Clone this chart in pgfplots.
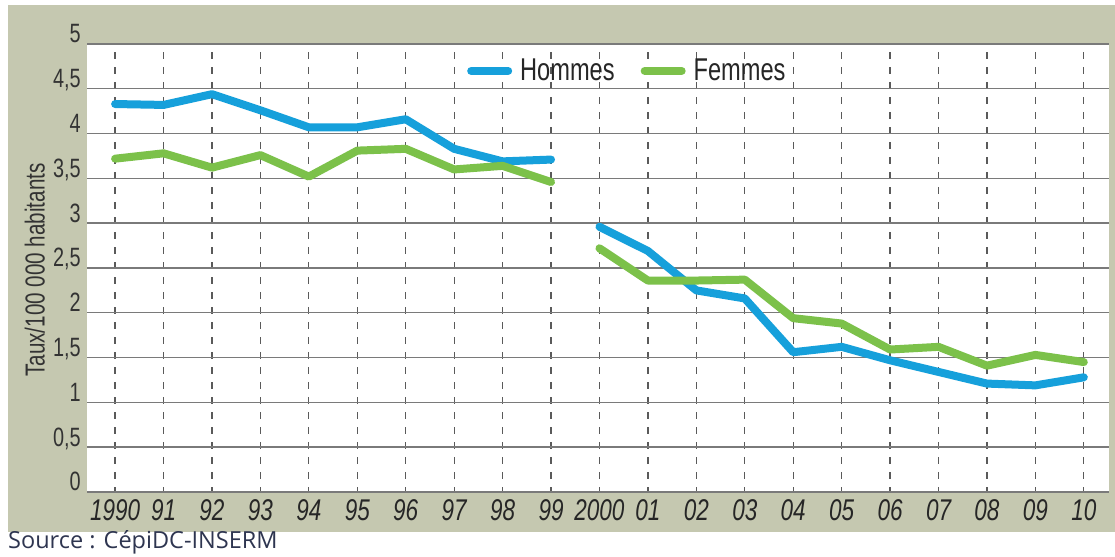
\documentclass[border=0pt]{standalone}
\usepackage{pgfplots}
\pgfplotsset{compat=1.18}
\usepackage{fontspec}
\setmainfont{Liberation Sans}
\newfontfamily\cond[FakeStretch=0.75]{Liberation Sans}
\newfontfamily\src{Open Sans}
\definecolor{panel}{HTML}{C5C8B0}
\definecolor{hblue}{HTML}{16A0DB}
\definecolor{fgreen}{HTML}{7CC14A}
\definecolor{srccol}{HTML}{2E3550}
\definecolor{gridh}{HTML}{7A7A7A}
\definecolor{gridv}{HTML}{5A5A5A}
\begin{document}
\begin{tikzpicture}
\useasboundingbox (0,0) rectangle (1115bp,557bp);
\fill[panel] (8bp,25bp) rectangle (1115bp,552bp);
\begin{axis}[
  at={(87bp,65bp)}, anchor=south west,
  scale only axis, width=1022bp, height=448bp,
  xmin=1989.42, xmax=2010.52, ymin=0, ymax=5,
  axis background/.style={fill=white},
  axis line style={draw=none},
  major tick length=0pt,
  xtick={1990,1991,1992,1993,1994,1995,1996,1997,1998,1999,2000,2001,2002,2003,2004,2005,2006,2007,2008,2009,2010},
  xticklabels={1990,91,92,93,94,95,96,97,98,99,2000,01,02,03,04,05,06,07,08,09,10},
  ytick={0,0.5,1,1.5,2,2.5,3,3.5,4,4.5,5},
  yticklabels={0,{0,5},1,{1,5},2,{2,5},3,{3,5},4,{4,5},5},
  xmajorgrids, ymajorgrids,
  x grid style={gridv, line width=1.2bp, dash pattern=on 7bp off 8bp, dash phase=2bp},
  y grid style={gridh, line width=1.4bp},
  yticklabel style={font=\cond\fontsize{26.5bp}{26.5bp}\selectfont, anchor=base east, xshift=-6bp, yshift=1bp, inner sep=0pt, text=black!80},
  xticklabel style={font=\cond\itshape\fontsize{30bp}{30bp}\selectfont, anchor=base, yshift=-29bp, inner sep=0pt, text=black!85},
  ylabel={Taux/100 000 habitants},
  ylabel style={font=\cond\fontsize{27.5bp}{27.5bp}\selectfont, at={(axis description cs:-0.051,0.4955)}, anchor=center, text=black!80, inner sep=0pt},
  legend style={at={(axis description cs:0.372,0.940)}, anchor=west, draw=none, fill=none, inner sep=0pt, outer sep=0pt,
    font=\cond\fontsize{31.5bp}{31.5bp}\selectfont, text=black!85,
    /tikz/every even column/.append style={column sep=24bp},
    /tikz/every odd column/.append style={column sep=6bp}},
  legend columns=2,
  legend image code/.code={\draw[#1, line cap=round] (4bp,0bp) -- (41bp,0bp);},
  every axis plot/.append style={line width=8bp, line join=round, line cap=round},
]
\addplot[hblue] coordinates {(1990,4.33)(1991,4.32)(1992,4.44)(1993,4.26)(1994,4.07)(1995,4.07)(1996,4.16)(1997,3.83)(1998,3.69)(1999,3.71)};
\addlegendentry{Hommes}
\addplot[fgreen] coordinates {(1990,3.72)(1991,3.78)(1992,3.62)(1993,3.76)(1994,3.52)(1995,3.81)(1996,3.83)(1997,3.60)(1998,3.64)(1999,3.46)};
\addlegendentry{Femmes}
\addplot[hblue, forget plot] coordinates {(2000,2.96)(2001,2.69)(2002,2.25)(2003,2.16)(2004,1.56)(2005,1.62)(2006,1.47)(2007,1.34)(2008,1.21)(2009,1.19)(2010,1.28)};
\addplot[fgreen, forget plot] coordinates {(2000,2.72)(2001,2.36)(2002,2.36)(2003,2.37)(2004,1.94)(2005,1.88)(2006,1.59)(2007,1.62)(2008,1.41)(2009,1.53)(2010,1.45)};
\end{axis}
\node[anchor=base west, font=\src\fontsize{23.5bp}{23.5bp}\selectfont, text=srccol, inner sep=0pt] at (8bp,9bp) {Source : CépiDC-INSERM};
\end{tikzpicture}
\end{document}
